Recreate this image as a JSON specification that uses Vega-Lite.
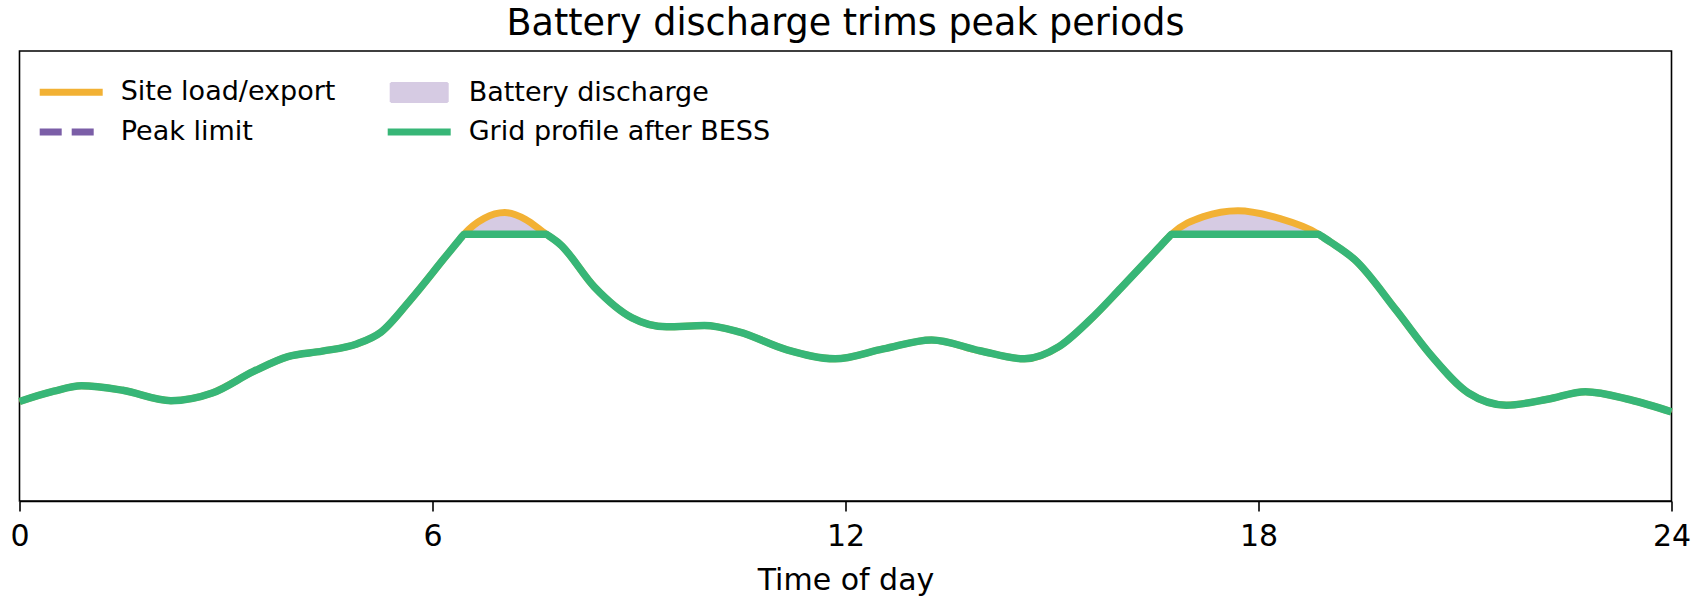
{
  "$schema": "https://vega.github.io/schema/vega-lite/v6.json",
  "width": 1652,
  "height": 450,
  "autosize": {"type": "none"},
  "padding": {"left": 19.5, "top": 51, "right": 24.5, "bottom": 97},
  "background": "white",
  "title": {
    "text": "Battery discharge trims peak periods",
    "fontSize": 36.5,
    "font": "DejaVu Sans",
    "fontWeight": "normal",
    "color": "black",
    "anchor": "middle",
    "baseline": "alphabetic",
    "offset": -20.5
  },
  "config": {
    "font": "DejaVu Sans",
    "view": {"stroke": "black", "strokeWidth": 1.6},
    "axis": {
      "labelFont": "DejaVu Sans",
      "titleFont": "DejaVu Sans"
    }
  },
  "data": {
    "values": [
      {"t": 0, "load": 22.1, "grid": 22.1},
      {"t": 0.5, "load": 24.4, "grid": 24.4},
      {"t": 0.9, "load": 25.6, "grid": 25.6},
      {"t": 1.5, "load": 24.6, "grid": 24.6},
      {"t": 2.2, "load": 22.3, "grid": 22.3},
      {"t": 2.8, "load": 24.0, "grid": 24.0},
      {"t": 3.4, "load": 28.8, "grid": 28.8},
      {"t": 3.9, "load": 32.1, "grid": 32.1},
      {"t": 4.4, "load": 33.3, "grid": 33.3},
      {"t": 4.9, "load": 34.9, "grid": 34.9},
      {"t": 5.25, "load": 37.5, "grid": 37.5},
      {"t": 5.68, "load": 44.7, "grid": 44.7},
      {"t": 6.2, "load": 54.5, "grid": 54.5},
      {"t": 6.35, "load": 57.3, "grid": 57.3},
      {"t": 6.42, "load": 58.6, "grid": 58.6},
      {"t": 6.46, "load": 59.3, "grid": 59.3},
      {"t": 6.75, "load": 62.8, "grid": 59.3},
      {"t": 7.05, "load": 64.1, "grid": 59.3},
      {"t": 7.35, "load": 62.6, "grid": 59.3},
      {"t": 7.65, "load": 59.3, "grid": 59.3},
      {"t": 7.69, "load": 58.9, "grid": 58.9},
      {"t": 7.85, "load": 57.1, "grid": 57.1},
      {"t": 8.35, "load": 47.6, "grid": 47.6},
      {"t": 8.9, "load": 40.7, "grid": 40.7},
      {"t": 9.4, "load": 38.7, "grid": 38.7},
      {"t": 9.95, "load": 39.0, "grid": 39.0},
      {"t": 10.45, "load": 37.6, "grid": 37.6},
      {"t": 11.15, "load": 33.6, "grid": 33.6},
      {"t": 11.85, "load": 31.6, "grid": 31.6},
      {"t": 12.55, "load": 33.8, "grid": 33.8},
      {"t": 13.25, "load": 35.8, "grid": 35.8},
      {"t": 13.95, "load": 33.4, "grid": 33.4},
      {"t": 14.6, "load": 31.6, "grid": 31.6},
      {"t": 15.1, "load": 34.3, "grid": 34.3},
      {"t": 15.55, "load": 40.2, "grid": 40.2},
      {"t": 16.0, "load": 47.3, "grid": 47.3},
      {"t": 16.4, "load": 53.8, "grid": 53.8},
      {"t": 16.6, "load": 57.1, "grid": 57.1},
      {"t": 16.7, "load": 58.7, "grid": 58.7},
      {"t": 16.74, "load": 59.3, "grid": 59.3},
      {"t": 17.2, "load": 63.2, "grid": 59.3},
      {"t": 17.7, "load": 64.5, "grid": 59.3},
      {"t": 18.3, "load": 62.8, "grid": 59.3},
      {"t": 18.87, "load": 59.3, "grid": 59.3},
      {"t": 18.91, "load": 58.9, "grid": 58.9},
      {"t": 19.05, "load": 57.5, "grid": 57.5},
      {"t": 19.4, "load": 53.6, "grid": 53.6},
      {"t": 20.0, "load": 42.4, "grid": 42.4},
      {"t": 20.5, "load": 32.5, "grid": 32.5},
      {"t": 21.05, "load": 24.0, "grid": 24.0},
      {"t": 21.6, "load": 21.3, "grid": 21.3},
      {"t": 22.2, "load": 22.6, "grid": 22.6},
      {"t": 22.75, "load": 24.3, "grid": 24.3},
      {"t": 23.4, "load": 22.5, "grid": 22.5},
      {"t": 24, "load": 19.8, "grid": 19.8}
    ]
  },
  "encoding": {
    "x": {
      "field": "t",
      "type": "quantitative",
      "scale": {"domain": [0, 24], "nice": false, "zero": false},
      "axis": {
        "values": [0, 6, 12, 18, 24],
        "title": "Time of day",
        "grid": false,
        "labelFlush": false,
        "labelFontSize": 30,
        "labelColor": "black",
        "labelPadding": 10,
        "titleFontSize": 30,
        "titleFontWeight": "normal",
        "titleColor": "black",
        "titlePadding": 14,
        "tickSize": 10,
        "tickWidth": 1.6,
        "tickColor": "black",
        "domainColor": "black",
        "domainWidth": 1.6
      }
    }
  },
  "layer": [
    {
      "mark": {"type": "area", "interpolate": "monotone", "opacity": 1},
      "encoding": {
        "y": {"field": "load", "type": "quantitative", "scale": {"domain": [0, 100], "nice": false}, "axis": null},
        "y2": {"field": "grid"},
        "color": {
          "datum": "Battery discharge",
          "type": "nominal",
          "scale": {
            "domain": ["Site load/export", "Peak limit", "Battery discharge", "Grid profile after BESS"],
            "range": ["#f2b134", "#7b5ea7", "#d6cbe3", "#37b677"]
          },
          "legend": {
            "title": null,
            "orient": "none",
            "legendX": 38.2,
            "legendY": 27.5,
            "direction": "vertical",
            "columns": 2,
            "columnPadding": 38,
            "rowPadding": 11,
            "padding": 0,
            "labelFontSize": 27,
            "labelFont": "DejaVu Sans",
            "labelColor": "black",
            "labelOffset": 36,
            "labelLimit": 500,
            "symbolSize": 400,
            "symbolOpacity": 1,
            "encode": {
              "symbols": {
                "update": {
                  "shape": {"signal": "datum.value === 'Battery discharge' ? 'M-2.85,-0.95H2.85V0.95H-2.85Z' : 'M-3.15,0H3.15'"},
                  "fill": {"signal": "datum.value === 'Battery discharge' ? '#d6cbe3' : 'transparent'"},
                  "stroke": {"signal": "datum.value === 'Battery discharge' ? '#bba7d3' : scale('color', datum.value)"},
                  "strokeWidth": {"signal": "datum.value === 'Battery discharge' ? 2 : 7"},
                  "strokeDash": {"signal": "datum.value === 'Peak limit' ? [22, 10] : [1, 0]"},
                  "opacity": {"value": 1}
                }
              }
            }
          }
        }
      }
    },
    {
      "mark": {"type": "line", "interpolate": "monotone", "strokeWidth": 7},
      "encoding": {
        "y": {"field": "load", "type": "quantitative"},
        "color": {"datum": "Site load/export", "type": "nominal"}
      }
    },
    {
      "data": {"values": [{"limit": 59.3}]},
      "mark": {"type": "rule", "strokeWidth": 5.5, "strokeDash": [21, 11]},
      "encoding": {
        "y": {"field": "limit", "type": "quantitative"},
        "color": {"datum": "Peak limit", "type": "nominal"}
      }
    },
    {
      "mark": {"type": "line", "interpolate": "monotone", "strokeWidth": 7.5},
      "encoding": {
        "y": {"field": "grid", "type": "quantitative"},
        "color": {"datum": "Grid profile after BESS", "type": "nominal"}
      }
    }
  ]
}
